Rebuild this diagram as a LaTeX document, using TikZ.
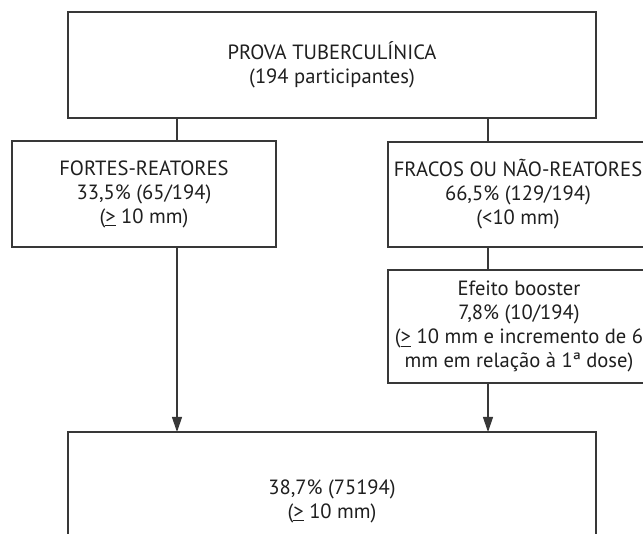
\documentclass[tikz,border=0pt]{standalone}
\usepackage{fontspec}
\setmainfont{PT Sans}
\usetikzlibrary{arrows.meta}
\definecolor{linegray}{rgb}{0.22,0.22,0.22}
\definecolor{textgray}{rgb}{0.12,0.12,0.12}

\begin{document}
\begin{tikzpicture}[x=0.5pt,y=-0.5pt]
			\tikzstyle{box} = [rectangle,draw=linegray,line width=0.65pt,fill=white,inner sep=0pt,outer sep=0pt,align=center,text=textgray,font=\fontsize{10.3}{12}\selectfont]
			\tikzstyle{txt} = [inner sep=0pt,align=center,text=textgray,font=\fontsize{10.3}{12}\selectfont]
			\tikzstyle{edge} = [-,draw=linegray,line width=0.6pt]
			\tikzstyle{edge2} = [-{Triangle[width=5pt,length=7.5pt]},draw=linegray,line width=0.6pt]
			\useasboundingbox (0,0) rectangle (643,534);
			\clip (0,0) rectangle (643,534);
			\coordinate (c1) at (177,0);
			\coordinate (c2) at (488,0);
			\node[box,minimum width=264pt,minimum height=53pt] (n1) at (332,65) {PROVA TUBERCULÍNICA\\(194 participantes)};
			\node[box,minimum width=132pt,minimum height=53pt] (n2) at (144,194) {FORTES-REATORES\\33,5\% (65/194)\\(\underline{>} 10 mm)};
			\node[box,minimum width=150pt,minimum height=52.5pt] (n3) at (538,194.5) {};
			\node[box,minimum width=150pt,minimum height=56.5pt] (n4) at (538,326.5) {};
			\node[box,minimum width=264pt,minimum height=69pt] (n5) at (332,501) {38,7\% (75194)\\(\underline{>} 10 mm)};
			\node[txt] (t3) at (518,194.5) {FRACOS OU NÃO-REATORES\\66,5\% (129/194)\\(<10 mm)};
			\node[txt] (t4) at (519,326.5) {Efeito booster\\7,8\% (10/194)\\(\underline{>} 10 mm e incremento de 6\\mm em relação à 1ª dose)};
			\draw[edge] (n1.south -| c1) -- (n2.north -| c1);
			\draw[edge] (n1.south -| c2) -- (n3.north -| c2);
			\draw[edge] (n3.south -| c2) -- (n4.north -| c2);
			\draw[edge2] (n2.south -| c1) -- (n5.north -| c1);
			\draw[edge2] (n4.south -| c2) -- (n5.north -| c2);
\end{tikzpicture}
\end{document}
